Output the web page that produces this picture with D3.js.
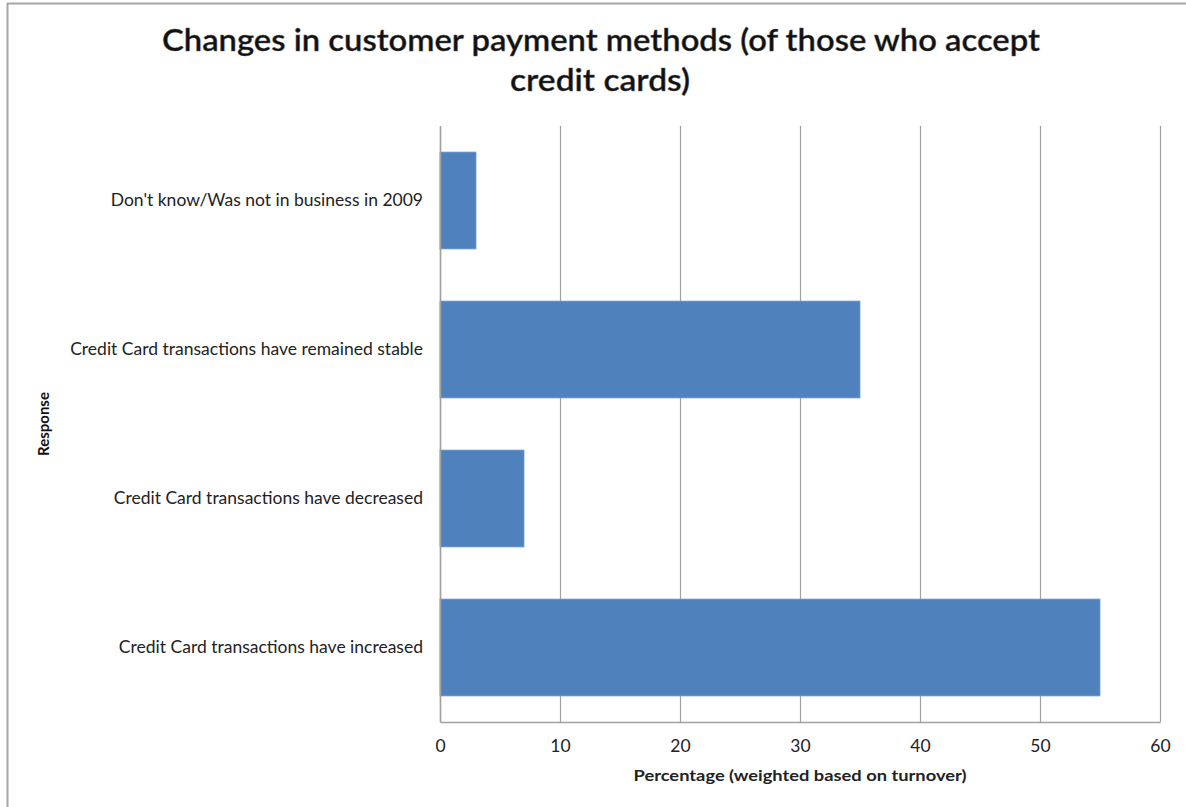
<!DOCTYPE html>
<html>
<head>
<meta charset="utf-8">
<script src="https://cdn.jsdelivr.net/npm/d3@7"></script>
<style>
  html, body { margin: 0; padding: 0; background: #fff; }
  svg { display: block; }
  text { font-family: Lato, "Open Sans", sans-serif; }
</style>
</head>
<body>
<svg id="chart" width="1186" height="807"></svg>
<script>
// Survey responses, listed top to bottom as shown in the chart
const categories = [
  "Don't know/Was not in business in 2009",
  "Credit Card transactions have remained stable",
  "Credit Card transactions have decreased",
  "Credit Card transactions have increased"
];
const percentages = [3, 35, 7, 55];
const xTicks = [0, 10, 20, 30, 40, 50, 60];

const titleLines = [
  "Changes in customer payment methods (of those who accept",
  "credit cards)"
];
const xTitle = "Percentage (weighted based on turnover)";
const yTitle = "Response";

const svg = d3.select("#chart");

// outer frame
svg.append("line").attr("x1", 7).attr("x2", 1186).attr("y1", 3.5).attr("y2", 3.5)
  .attr("stroke", "#a6a6a6").attr("stroke-width", 2);
svg.append("line").attr("x1", 7.5).attr("x2", 7.5).attr("y1", 3).attr("y2", 807)
  .attr("stroke", "#a6a6a6").attr("stroke-width", 2);

const plot = { left: 440, right: 1160, top: 126, bottom: 722 };

const x = d3.scaleLinear().domain([0, 60]).range([plot.left, plot.right]);
const y = d3.scaleBand().domain(categories)
  .range([plot.top, plot.bottom])
  .paddingInner(0.35).paddingOuter(0.175);

// vertical gridlines
svg.append("g").selectAll("line").data(xTicks).join("line")
  .attr("x1", d => Math.round(x(d)) + 0.5).attr("x2", d => Math.round(x(d)) + 0.5)
  .attr("y1", plot.top).attr("y2", plot.bottom)
  .attr("stroke", "#a0a0a0").attr("stroke-width", 1.2);

// bars
svg.append("g").selectAll("rect").data(categories).join("rect")
  .attr("x", x(0))
  .attr("y", d => y(d))
  .attr("width", (d, i) => x(percentages[i]) - x(0))
  .attr("height", y.bandwidth())
  .attr("fill", "#4f81bd")
  .attr("stroke", "#6f9bd0").attr("stroke-width", 0.8);

// x axis
const xAxis = svg.append("g")
  .attr("transform", `translate(0,${plot.bottom})`)
  .call(d3.axisBottom(x).tickValues(xTicks).tickSize(0).tickPadding(18));
xAxis.select(".domain").attr("stroke", "#a0a0a0").attr("stroke-width", 1.5);
xAxis.selectAll("text").attr("font-size", 17.5).attr("fill", "#222")
  .attr("font-family", "Lato, sans-serif");

// y axis
const yAxis = svg.append("g")
  .attr("transform", `translate(${plot.left},0)`)
  .call(d3.axisLeft(y).tickSize(0).tickPadding(17));
yAxis.select(".domain").attr("stroke", "#a0a0a0").attr("stroke-width", 1.5);
yAxis.selectAll("text").attr("font-size", 17.5).attr("fill", "#222")
  .attr("font-family", "Lato, sans-serif");

// title
svg.append("text").attr("x", 601).attr("y", 51)
  .attr("text-anchor", "middle").attr("font-size", 31).attr("font-weight", 600)
  .attr("fill", "#111").attr("stroke", "#555").attr("stroke-width", 0.4)
  .attr("textLength", 878).attr("lengthAdjust", "spacingAndGlyphs")
  .text(titleLines[0]);
svg.append("text").attr("x", 600).attr("y", 91)
  .attr("text-anchor", "middle").attr("font-size", 31).attr("font-weight", 600)
  .attr("fill", "#111").attr("stroke", "#555").attr("stroke-width", 0.4)
  .attr("textLength", 180).attr("lengthAdjust", "spacingAndGlyphs")
  .text(titleLines[1]);

// axis titles
svg.append("text").attr("x", 800).attr("y", 781)
  .attr("text-anchor", "middle").attr("font-size", 14.5).attr("font-weight", 700)
  .attr("fill", "#222").attr("textLength", 333).attr("lengthAdjust", "spacingAndGlyphs")
  .text(xTitle);
svg.append("text")
  .attr("transform", "translate(49,424) rotate(-90)")
  .attr("text-anchor", "middle").attr("font-size", 15).attr("font-weight", 700)
  .attr("fill", "#111")
  .text(yTitle);
</script>
</body>
</html>
